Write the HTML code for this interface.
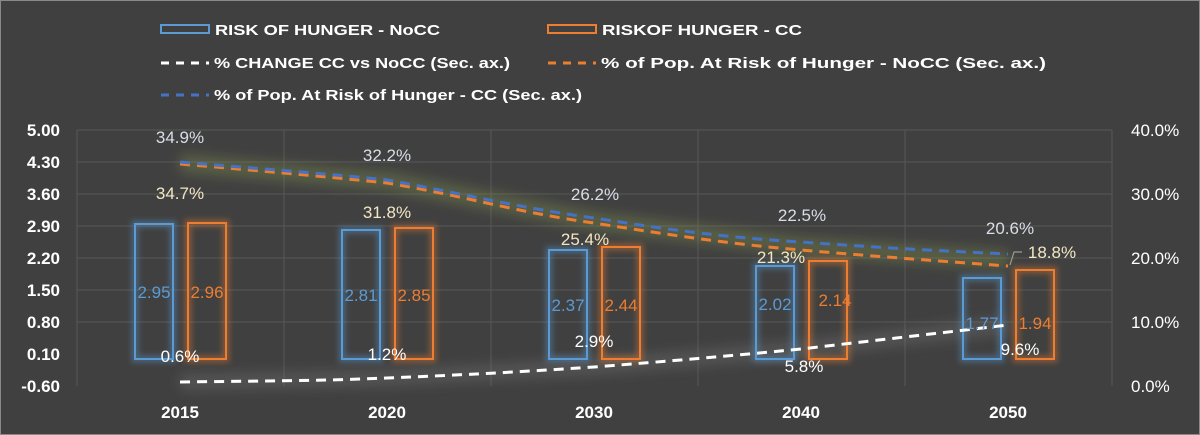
<!DOCTYPE html>
<html><head><meta charset="utf-8"><style>
html,body{margin:0;padding:0;background:#404040;}
svg{display:block;font-family:"Liberation Sans",Arial,sans-serif;}
</style></head><body>
<svg width="1200" height="435" viewBox="0 0 1200 435" xmlns="http://www.w3.org/2000/svg">
<defs>
<filter id="glow" x="-20%" y="-20%" width="140%" height="140%"><feGaussianBlur stdDeviation="3"/></filter>
<filter id="glow2" x="-10%" y="-50%" width="120%" height="200%"><feGaussianBlur stdDeviation="6"/></filter>
</defs>
<rect x="0" y="0" width="1200" height="435" fill="#404040"/>
<rect x="0.5" y="0.5" width="1199" height="434" fill="none" stroke="#8a8a8a" stroke-width="1"/>
<!-- legend -->
<g font-size="15" font-weight="bold" fill="#ffffff">
<rect x="161" y="25" width="48" height="8" fill="none" stroke="#5b9bd5" stroke-width="2"/>
<text x="215" y="35" textLength="225" lengthAdjust="spacingAndGlyphs">RISK OF HUNGER - NoCC</text>
<rect x="548" y="25" width="48" height="8" fill="none" stroke="#ed7d31" stroke-width="2"/>
<text x="602" y="35" textLength="200" lengthAdjust="spacingAndGlyphs">RISKOF HUNGER - CC</text>
<line x1="161" y1="63" x2="209" y2="63" stroke="#ffffff" stroke-width="3" stroke-dasharray="8,7"/>
<text x="214" y="68" textLength="296" lengthAdjust="spacingAndGlyphs">% CHANGE CC vs NoCC (Sec. ax.)</text>
<line x1="548" y1="63" x2="596" y2="63" stroke="#ed7d31" stroke-width="3" stroke-dasharray="8,7"/>
<text x="601" y="68" textLength="445" lengthAdjust="spacingAndGlyphs">% of Pop. At Risk of Hunger - NoCC (Sec. ax.)</text>
<line x1="161" y1="95" x2="209" y2="95" stroke="#4472c4" stroke-width="3" stroke-dasharray="8,7"/>
<text x="214" y="100" textLength="368" lengthAdjust="spacingAndGlyphs">% of Pop. At Risk of Hunger - CC (Sec. ax.)</text>
</g>
<!-- gridlines -->
<g stroke="#575757" stroke-width="1">
<line x1="77" y1="130" x2="1112" y2="130"/>
<line x1="77" y1="162" x2="1112" y2="162"/>
<line x1="77" y1="194" x2="1112" y2="194"/>
<line x1="77" y1="226" x2="1112" y2="226"/>
<line x1="77" y1="258" x2="1112" y2="258"/>
<line x1="77" y1="290" x2="1112" y2="290"/>
<line x1="77" y1="322" x2="1112" y2="322"/>
<line x1="77" y1="130" x2="77" y2="386"/>
<line x1="284" y1="130" x2="284" y2="386"/>
<line x1="491" y1="130" x2="491" y2="386"/>
<line x1="698" y1="130" x2="698" y2="386"/>
<line x1="905" y1="130" x2="905" y2="386"/>
<line x1="1112" y1="130" x2="1112" y2="386"/>
</g>
<!-- axis labels -->
<g font-size="17" font-weight="bold" fill="#ffffff" text-anchor="end">
<text x="60" y="136">5.00</text><text x="60" y="168">4.30</text><text x="60" y="200">3.60</text>
<text x="60" y="232">2.90</text><text x="60" y="264">2.20</text><text x="60" y="296">1.50</text>
<text x="60" y="328">0.80</text><text x="60" y="360">0.10</text><text x="60" y="392">-0.60</text>
</g>
<g font-size="17" fill="#ffffff">
<text x="1131" y="136">40.0%</text><text x="1131" y="200">30.0%</text><text x="1131" y="264">20.0%</text>
<text x="1131" y="328">10.0%</text><text x="1131" y="392">0.0%</text>
</g>
<g font-size="17" font-weight="bold" fill="#ffffff" text-anchor="middle">
<text x="180" y="418">2015</text><text x="387" y="418">2020</text><text x="594" y="418">2030</text>
<text x="801" y="418">2040</text><text x="1008" y="418">2050</text>
</g>
<!-- line glows -->
<polyline points="180,163 387,181 594,221 801,246 1008,260" fill="none" stroke="#8a9a50" stroke-opacity="0.35" stroke-width="18" filter="url(#glow2)"/>
<polyline points="180,382 387,378 594,367 801,349 1008,325" fill="none" stroke="#777" stroke-opacity="0.35" stroke-width="16" filter="url(#glow2)"/>
<!-- bars -->
<g fill="none" stroke-width="2">
<g stroke="#5b9bd5" stroke-opacity="0.4" stroke-width="7" filter="url(#glow)">
<rect x="135" y="224" width="38" height="135"/><rect x="342" y="230" width="38" height="129"/>
<rect x="549" y="250" width="38" height="109"/><rect x="756" y="266" width="38" height="93"/>
<rect x="963" y="278" width="38" height="81"/>
</g>
<g stroke="#ed7d31" stroke-opacity="0.4" stroke-width="7" filter="url(#glow)">
<rect x="188" y="223" width="38" height="136"/><rect x="395" y="228" width="38" height="131"/>
<rect x="602" y="247" width="38" height="112"/><rect x="809" y="261" width="38" height="98"/>
<rect x="1016" y="270" width="38" height="89"/>
</g>
<g stroke="#5b9bd5">
<rect x="135" y="224" width="38" height="135"/><rect x="342" y="230" width="38" height="129"/>
<rect x="549" y="250" width="38" height="109"/><rect x="756" y="266" width="38" height="93"/>
<rect x="963" y="278" width="38" height="81"/>
</g>
<g stroke="#ed7d31">
<rect x="188" y="223" width="38" height="136"/><rect x="395" y="228" width="38" height="131"/>
<rect x="602" y="247" width="38" height="112"/><rect x="809" y="261" width="38" height="98"/>
<rect x="1016" y="270" width="38" height="89"/>
</g>
</g>
<!-- lines -->
<path d="M180,164 C250,170 320,176 387,183 C460,195 520,213 594,223 C670,235 730,244 801,250 C870,256 940,261 1008,266" fill="none" stroke="#ed7d31" stroke-width="3" stroke-dasharray="10,7"/>
<path d="M180,162 C250,168 320,173 387,180 C460,193 520,208 594,218 C670,230 730,238 801,242 C870,247 940,251 1008,254" fill="none" stroke="#4472c4" stroke-width="3" stroke-dasharray="10,7"/>
<path d="M180,382 C250,381 320,381 387,378 C460,375 520,372 594,367 C670,361 730,356 801,349 C870,341 940,333 1008,325" fill="none" stroke="#ffffff" stroke-width="3" stroke-dasharray="10,7"/>
<polyline points="1010,265 1014,252 1022,252" fill="none" stroke="#999" stroke-width="1.2"/>
<!-- data labels -->
<g font-size="17" text-anchor="middle">
<g fill="#5b9bd5"><text x="154" y="298">2.95</text><text x="361" y="301">2.81</text><text x="568" y="311">2.37</text><text x="775" y="310">2.02</text><text x="982" y="329">1.77</text></g>
<g fill="#ed7d31"><text x="207" y="298">2.96</text><text x="414" y="301">2.85</text><text x="621" y="311">2.44</text><text x="835" y="306">2.14</text><text x="1035" y="329">1.94</text></g>
<g fill="#d9dde6"><text x="180" y="143">34.9%</text><text x="387" y="161">32.2%</text><text x="595" y="200">26.2%</text><text x="802" y="221">22.5%</text><text x="1010" y="234">20.6%</text></g>
<g fill="#f3e6c2"><text x="180" y="199">34.7%</text><text x="387" y="218">31.8%</text><text x="585" y="245">25.4%</text><text x="781" y="263">21.3%</text><text x="1052" y="258">18.8%</text></g>
<g fill="#ffffff"><text x="180" y="362">0.6%</text><text x="387" y="360">1.2%</text><text x="594" y="347">2.9%</text><text x="804" y="372">5.8%</text><text x="1020" y="355">9.6%</text></g>
</g>
</svg>
</body></html>
